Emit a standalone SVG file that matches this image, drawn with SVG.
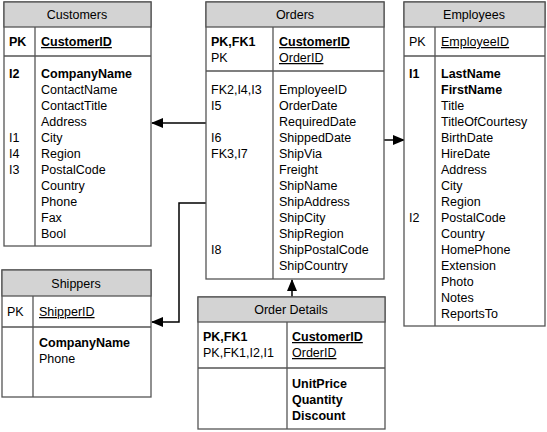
<svg xmlns="http://www.w3.org/2000/svg" width="547" height="432" viewBox="0 0 547 432">
<defs><marker id="ar" markerWidth="12" markerHeight="10" refX="11" refY="5" orient="auto" markerUnits="userSpaceOnUse"><path d="M0,0 L12,5 L0,10 Z" fill="#000"/></marker></defs>
<style>
.box{fill:#fff;stroke:#555;stroke-width:1.3}
.hd{fill:#d3d3d3;stroke:#555;stroke-width:1.3}
.ln{stroke:#555;stroke-width:1.3}
text{font-family:"Liberation Sans",Arial,sans-serif;font-size:12.5px;fill:#000}
.t{text-anchor:middle}
.b{font-weight:bold}
.u{text-decoration:underline}
.c{stroke:#000;stroke-width:1.5;fill:none}
</style>
<g id="connectors">
<line class="c" x1="206" y1="123" x2="152" y2="123" marker-end="url(#ar)"/>
<line class="c" x1="384" y1="140" x2="404" y2="140" marker-end="url(#ar)"/>
<polyline class="c" points="206,203 179,203 179,322 152,322" marker-end="url(#ar)"/>
<line class="c" x1="292" y1="297" x2="292" y2="280" marker-end="url(#ar)"/>
</g>
<g id="customers">
<rect class="box" x="4" y="2" width="147" height="244"/>
<rect class="hd" x="4" y="2" width="147" height="25"/>
<line class="ln" x1="4" y1="56" x2="151" y2="56"/><line class="ln" x1="35" y1="27" x2="35" y2="246"/>
<text class="t" x="77" y="19">Customers</text>
<text class="b" x="9" y="46">PK</text><text class="b u" x="41" y="46">CustomerID</text>
<text x="9" y="78" class="b">I2</text><text x="9" y="142">I1</text><text x="9" y="158">I4</text><text x="9" y="174">I3</text>
<text x="41" y="78" class="b">CompanyName</text><text x="41" y="94">ContactName</text><text x="41" y="110">ContactTitle</text><text x="41" y="126">Address</text><text x="41" y="142">City</text><text x="41" y="158">Region</text><text x="41" y="174">PostalCode</text><text x="41" y="190">Country</text><text x="41" y="206">Phone</text><text x="41" y="222">Fax</text><text x="41" y="238">Bool</text>
</g>
<g id="orders">
<rect class="box" x="206" y="2" width="178" height="277"/>
<rect class="hd" x="206" y="2" width="178" height="25"/>
<line class="ln" x1="206" y1="71" x2="384" y2="71"/><line class="ln" x1="273" y1="27" x2="273" y2="279"/>
<text class="t" x="295" y="19">Orders</text>
<text class="b" x="211" y="46">PK,FK1</text><text x="211" y="62">PK</text>
<text class="b u" x="279" y="46">CustomerID</text><text class="u" x="279" y="62">OrderID</text>
<text x="211" y="94">FK2,I4,I3</text><text x="211" y="110">I5</text><text x="211" y="142">I6</text><text x="211" y="158">FK3,I7</text><text x="211" y="254">I8</text>
<text x="279" y="94">EmployeeID</text><text x="279" y="110">OrderDate</text><text x="279" y="126">RequiredDate</text><text x="279" y="142">ShippedDate</text><text x="279" y="158">ShipVia</text><text x="279" y="174">Freight</text><text x="279" y="190">ShipName</text><text x="279" y="206">ShipAddress</text><text x="279" y="222">ShipCity</text><text x="279" y="238">ShipRegion</text><text x="279" y="254">ShipPostalCode</text><text x="279" y="270">ShipCountry</text>
</g>
<g id="employees">
<rect class="box" x="404" y="2" width="141" height="324"/>
<rect class="hd" x="404" y="2" width="141" height="25"/>
<line class="ln" x1="404" y1="56" x2="545" y2="56"/><line class="ln" x1="435" y1="27" x2="435" y2="326"/>
<text class="t" x="474" y="19">Employees</text>
<text x="409" y="46">PK</text><text class="u" x="441" y="46">EmployeeID</text>
<text class="b" x="409" y="78">I1</text><text x="409" y="222">I2</text>
<text class="b" x="441" y="78">LastName</text><text class="b" x="441" y="94">FirstName</text><text x="441" y="110">Title</text><text x="441" y="126">TitleOfCourtesy</text><text x="441" y="142">BirthDate</text><text x="441" y="158">HireDate</text><text x="441" y="174">Address</text><text x="441" y="190">City</text><text x="441" y="206">Region</text><text x="441" y="222">PostalCode</text><text x="441" y="238">Country</text><text x="441" y="254">HomePhone</text><text x="441" y="270">Extension</text><text x="441" y="286">Photo</text><text x="441" y="302">Notes</text><text x="441" y="318">ReportsTo</text>
</g>
<g id="shippers">
<rect class="box" x="2" y="270" width="149" height="127"/>
<rect class="hd" x="2" y="270" width="149" height="26"/>
<line class="ln" x1="2" y1="327" x2="151" y2="327"/><line class="ln" x1="33" y1="296" x2="33" y2="397"/>
<text class="t" x="76" y="288">Shippers</text>
<text x="7" y="316">PK</text><text class="u" x="39" y="316">ShipperID</text>
<text class="b" x="39" y="347">CompanyName</text><text x="39" y="363">Phone</text>
</g>
<g id="orderdetails">
<rect class="box" x="198" y="297" width="187" height="132"/>
<rect class="hd" x="198" y="297" width="187" height="25"/>
<line class="ln" x1="198" y1="368" x2="385" y2="368"/><line class="ln" x1="287" y1="322" x2="287" y2="429"/>
<text class="t" x="291" y="314">Order Details</text>
<text class="b" x="203" y="341">PK,FK1</text><text x="203" y="357">PK,FK1,I2,I1</text>
<text class="b u" x="292" y="341">CustomerID</text><text class="u" x="292" y="357">OrderID</text>
<text class="b" x="292" y="388">UnitPrice</text><text class="b" x="292" y="404">Quantity</text><text class="b" x="292" y="420">Discount</text>
</g>
</svg>
